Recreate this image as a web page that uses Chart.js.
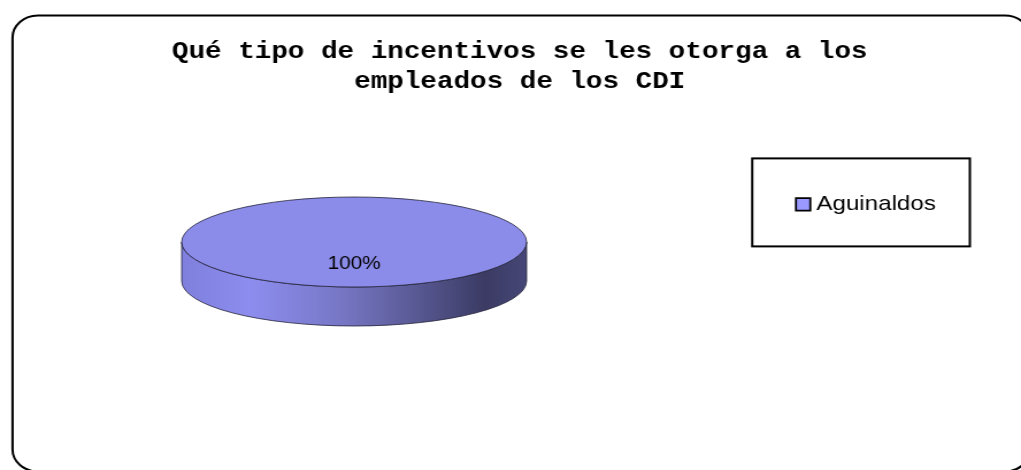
<!DOCTYPE html>
<html>
<head>
<meta charset="utf-8">
<script src="https://cdn.jsdelivr.net/npm/chart.js@4.4.0/dist/chart.umd.min.js"></script>
<style>
  html, body { margin: 0; padding: 0; background: #ffffff; }
  #wrap { width: 1021px; height: 470px; overflow: hidden; }
  /* the chart is laid out narrower and widened, like the stretched sheet graphic */
  #chart { display: block; transform: scaleX(1.1498); transform-origin: 0 0; }
</style>
</head>
<body>
<div id="wrap"><canvas id="chart" width="888" height="470"></canvas></div>
<script>
const categories = ['Aguinaldos'];
const values = [100];
const titleLines = ['Qué tipo de incentivos se les otorga a los', 'empleados de los CDI'];

const TILT = 0.3;    // vertical squash of the disc
const DEPTH = 39;    // thickness of the disc side
const DISC_RADIUS = 150;

// rounded outer border of the chart sheet
const sheetBorder = {
  id: 'sheetBorder',
  beforeDraw(chart) {
    const ctx = chart.ctx;
    ctx.save();
    ctx.strokeStyle = '#000000';
    ctx.lineWidth = 2;
    ctx.beginPath();
    ctx.roundRect(10.9, 15.5, 885, 456, 22);
    ctx.stroke();
    ctx.restore();
  }
};

// draws the pie as a tilted disc with a shaded side wall
const disc3d = {
  id: 'disc3d',
  beforeDatasetsDraw(chart) {
    const ctx = chart.ctx;
    const arc = chart.getDatasetMeta(0).data[0];
    const cx = arc.x, cy = arc.y, r = arc.outerRadius, ry = r * TILT;
    ctx.save();
    const g = ctx.createLinearGradient(cx - r, 0, cx + r, 0);
    g.addColorStop(0.00, '#7f7fdd');
    g.addColorStop(0.20, '#8d8def');
    g.addColorStop(0.45, '#7878c8');
    g.addColorStop(0.68, '#595994');
    g.addColorStop(0.88, '#3b3b64');
    g.addColorStop(1.00, '#474778');
    ctx.beginPath();
    ctx.ellipse(cx, cy, r, ry, 0, 0, Math.PI);
    ctx.lineTo(cx - r, cy + DEPTH);
    ctx.ellipse(cx, cy + DEPTH, r, ry, 0, Math.PI, 0, true);
    ctx.closePath();
    ctx.fillStyle = g;
    ctx.fill();
    ctx.strokeStyle = '#23233a';
    ctx.lineWidth = 0.8;
    ctx.stroke();
    ctx.restore();
    ctx.save();
    ctx.translate(cx, cy);
    ctx.scale(1, TILT);
    ctx.translate(-cx, -cy);
  },
  afterDatasetsDraw(chart) {
    const ctx = chart.ctx;
    ctx.restore();
    const arc = chart.getDatasetMeta(0).data[0];
    const cx = arc.x, cy = arc.y, r = arc.outerRadius, ry = r * TILT;
    ctx.save();
    ctx.beginPath();
    ctx.ellipse(cx, cy, r, ry, 0, 0, Math.PI * 2);
    ctx.strokeStyle = '#23233a';
    ctx.lineWidth = 0.8;
    ctx.stroke();
    const total = values.reduce((a, b) => a + b, 0);
    const pct = Math.round(values[0] / total * 100) + '%';
    ctx.font = '18px "Liberation Sans"';
    ctx.fillStyle = '#000000';
    ctx.textAlign = 'center';
    ctx.textBaseline = 'middle';
    ctx.fillText(pct, cx, cy + ry * 0.5);
    ctx.restore();
  }
};

// plain black frame around the legend
const legendFrame = {
  id: 'legendFrame',
  afterDraw(chart) {
    const hb = chart.legend.legendHitBoxes[0];
    if (!hb) return;
    const ctx = chart.ctx;
    const midY = hb.top + hb.height / 2;
    const left = hb.left - 43.25;
    const right = hb.left + hb.width + 29.6;
    ctx.save();
    ctx.strokeStyle = '#000000';
    ctx.lineWidth = 2;
    ctx.strokeRect(left, midY - 46, right - left, 88);
    ctx.restore();
  }
};

new Chart(document.getElementById('chart'), {
  type: 'pie',
  data: {
    labels: categories,
    datasets: [{
      data: values,
      backgroundColor: '#8b8be9',
      borderWidth: 0,
      hoverOffset: 0,
      radius: DISC_RADIUS,
      clip: false
    }]
  },
  options: {
    responsive: false,
    animation: false,
    events: [],
    layout: { padding: { top: 37.4, left: 80.1, right: 64.1, bottom: 98.6 } },
    plugins: {
      tooltip: { enabled: false },
      title: {
        display: true,
        text: titleLines,
        color: '#000000',
        font: { family: '"Liberation Mono"', size: 24, weight: 'bold', lineHeight: 1.25 },
        padding: { top: 0, bottom: 15.2 }
      },
      legend: {
        display: true,
        position: 'right',
        align: 'center',
        fullSize: true,
        labels: {
          color: '#000000',
          font: { family: '"Liberation Sans"', size: 21 },
          usePointStyle: true,
          pointStyle: 'rect',
          boxWidth: 2,
          boxHeight: 12.5,
          padding: 161.6,
          generateLabels(chart) {
            return Chart.overrides.pie.plugins.legend.labels.generateLabels(chart).map(item => ({
              ...item,
              pointStyle: 'rect',
              fillStyle: '#9999ff',
              strokeStyle: '#000000',
              lineWidth: 1.8
            }));
          }
        }
      }
    }
  },
  plugins: [sheetBorder, disc3d, legendFrame]
});
</script>
</body>
</html>
